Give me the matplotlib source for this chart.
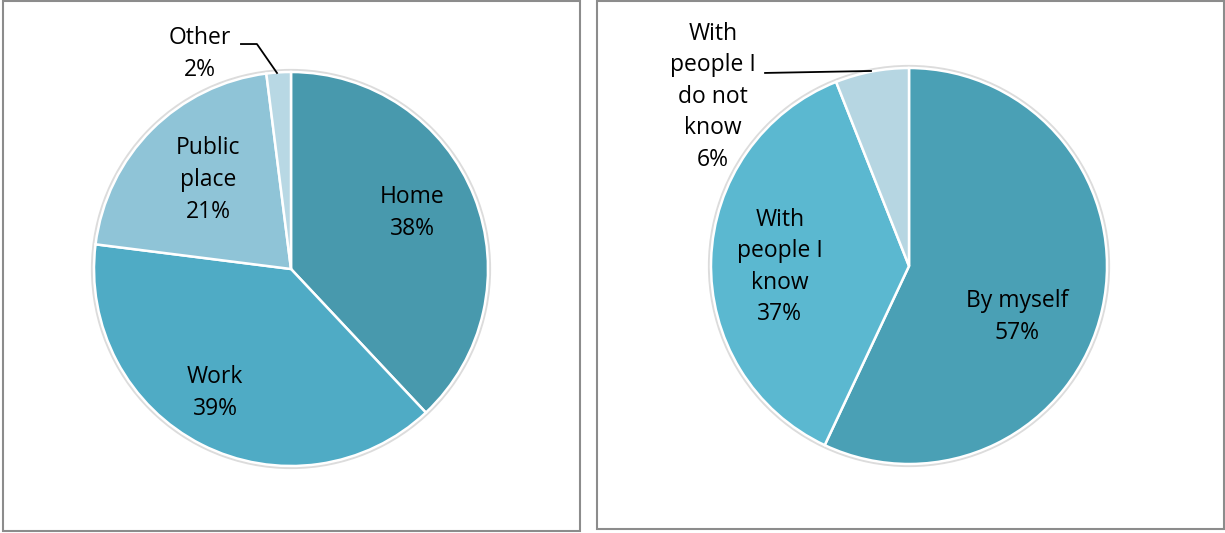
import matplotlib
matplotlib.use("Agg")
import matplotlib.pyplot as plt
from matplotlib.patches import Rectangle, Circle

plt.rcParams["font.family"] = ["Open Sans", "DejaVu Sans"]

# ── Data ─────────────────────────────────────────────────────────────────────
where_labels = ["Home", "Work", "Public\nplace", "Other"]
where_values = [38, 39, 21, 2]
where_colors = ["#4899AD", "#4FABC5", "#8FC4D7", "#B8D8E4"]

who_labels = ["By myself", "With\npeople I\nknow", "With\npeople I\ndo not\nknow"]
who_values = [57, 37, 6]
who_colors = ["#4AA0B5", "#5BB8D0", "#B6D6E2"]

W, H = 1225, 533
fig = plt.figure(figsize=(W / 100, H / 100), dpi=100)


def px_axes(cx, cy, r):
    """Square axes whose unit circle sits at pixel centre (cx, cy) with radius r."""
    ax = fig.add_axes([(cx - r) / W, (H - cy - r) / H, 2 * r / W, 2 * r / H])
    ax.set_xlim(-1, 1)
    ax.set_ylim(-1, 1)
    ax.set_aspect("equal")
    ax.axis("off")
    return ax


def draw_pie(ax, values, colors):
    # soft halo round the pie
    ax.add_patch(Circle((0, 0), 1.008, facecolor="none", edgecolor="#dcdcdc",
                        linewidth=2.2, zorder=0, clip_on=False))
    ax.pie(values, colors=colors, startangle=90, counterclock=False,
           radius=1, wedgeprops=dict(edgecolor="white", linewidth=1.8))
    ax.set_xlim(-1, 1)
    ax.set_ylim(-1, 1)


def label(ax, x, y, text, value):
    ax.text(x, y, f"{text}\n{value}%", ha="center", va="center",
            fontsize=16.5, linespacing=1.42, color="black", clip_on=False)


# Frames around each panel
fig.add_artist(Rectangle((3 / W, 2 / H), 577 / W, 530 / H, transform=fig.transFigure,
                         facecolor="none", edgecolor="#8c8c8c", linewidth=1.5))
fig.add_artist(Rectangle((597 / W, 4 / H), 627 / W, 528 / H, transform=fig.transFigure,
                         facecolor="none", edgecolor="#8c8c8c", linewidth=1.5))

# ── Left pie: where ─────────────────────────────────────────────────────────
ax1 = px_axes(291, 269, 197)
draw_pie(ax1, where_values, where_colors)
label(ax1, 0.614, 0.284, where_labels[0], where_values[0])
label(ax1, -0.386, -0.629, where_labels[1], where_values[1])
label(ax1, -0.421, 0.452, where_labels[2], where_values[2])
label(ax1, -0.462, 1.091, where_labels[3], where_values[3])
ax1.plot([-0.254, -0.173, -0.071], [1.142, 1.142, 0.995], color="black",
         linewidth=1.3, clip_on=False)

# ── Right pie: with whom ────────────────────────────────────────────────────
ax2 = px_axes(909, 266, 198)
draw_pie(ax2, who_values, who_colors)
label(ax2, 0.545, -0.258, who_labels[0], who_values[0])
label(ax2, -0.652, -0.005, who_labels[1], who_values[1])
label(ax2, -0.99, 0.854, who_labels[2], who_values[2])
ax2.plot([-0.727, -0.192], [0.975, 0.985], color="black", linewidth=1.3,
         clip_on=False)

fig.savefig("out.png", dpi=100)
